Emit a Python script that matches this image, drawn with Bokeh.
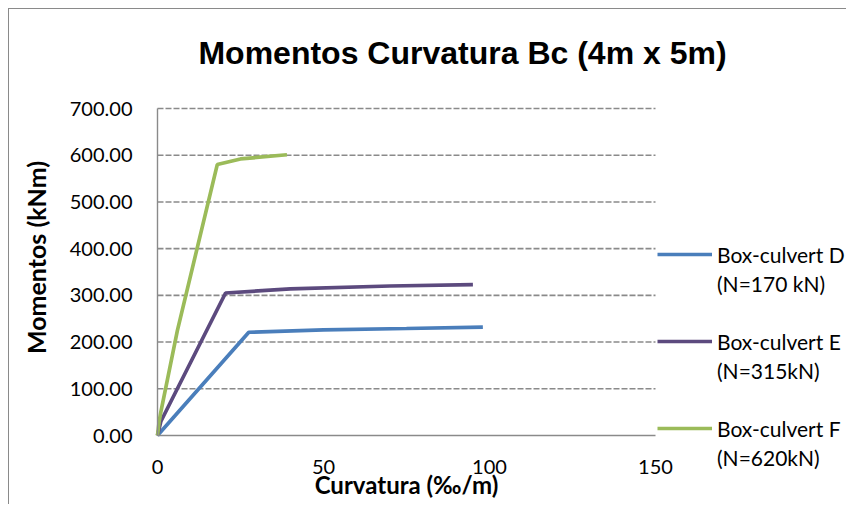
import math
from bokeh.plotting import figure
from bokeh.models import Range1d, Legend, LegendItem, Label, FixedTicker, CustomJSTickFormatter
from bokeh.embed import file_html
from bokeh.resources import INLINE

title_text = "Momentos Curvatura Bc (4m x 5m)"
x_label = "Curvatura (‰/m)"
y_label = "Momentos (kNm)"

x_ticks = [0, 50, 100, 150]
y_ticks = [0, 100, 200, 300, 400, 500, 600, 700]

# Box-culvert D (N=170 kN)
d_curv = [0, 27.5, 50, 75, 98]
d_mom = [0, 221, 226, 229, 232]
# Box-culvert E (N=315kN)
e_curv = [0, 1, 20.5, 40, 70, 95]
e_mom = [0, 30, 305, 314, 320, 323]
# Box-culvert F (N=620kN)
f_curv = [0, 0.5, 1, 6, 18, 25, 39]
f_mom = [0, 30, 50, 225, 580, 592, 601]

series_names = ["Box-culvert D", "Box-culvert E", "Box-culvert F"]
series_loads = ["(N=170 kN)", "(N=315kN)", "(N=620kN)"]
colors = ["#4A7EBB", "#5C4A7E", "#9BBB59"]

# ---- layout (page pixels) ----
W, H = 838, 496
frame_left, frame_right = 9, 9 + W
frame_top, frame_bottom = 9, 9 + H
x0_px, x150_px = 157, 655       # where the first and last x ticks sit
y0_px, y700_px = 435, 108       # where the first and last y ticks sit
kx = (x150_px - x0_px) / (x_ticks[-1] - x_ticks[0])
ky = (y0_px - y700_px) / (y_ticks[-1] - y_ticks[0])
x_range = Range1d(x_ticks[0] - (x0_px - frame_left) / kx, x_ticks[0] + (frame_right - x0_px) / kx)
y_range = Range1d(y_ticks[0] - (frame_bottom - y0_px) / ky, y_ticks[0] + (y0_px - frame_top) / ky)

p = figure(width=W, height=H, output_backend="svg", toolbar_location=None,
           x_range=x_range, y_range=y_range,
           min_border_left=0, min_border_right=0, min_border_top=0, min_border_bottom=0)
p.styles = {"margin-left": "8px", "margin-top": "8px",
            "border-left": "1px solid #8a8a8a", "border-top": "1px solid #8a8a8a"}
p.outline_line_color = None

grey = "#8a8a8a"
p.xgrid.grid_line_color = None
p.ygrid.grid_line_color = None
# dashed horizontal gridlines, bounded to the x-axis extent
grid_y = y_ticks[1:]
p.segment(x0=[x_ticks[0]] * len(grid_y), x1=[x_ticks[-1]] * len(grid_y), y0=grid_y, y1=grid_y,
          line_color=grey, line_width=1.6, line_dash="6 2")

p.xaxis.ticker = FixedTicker(ticks=x_ticks)
p.yaxis.ticker = FixedTicker(ticks=y_ticks)
p.yaxis.formatter = CustomJSTickFormatter(code="return tick.toFixed(2);")
p.xaxis.bounds = (x_ticks[0], x_ticks[-1])
p.yaxis.bounds = (y_ticks[0], y_ticks[-1])
p.xaxis.fixed_location = y_ticks[0]
p.yaxis.fixed_location = x_ticks[0]

for ax in (p.xaxis, p.yaxis):
    ax.axis_line_color = grey
    ax.axis_line_width = 1.4
    ax.major_tick_line_color = None
    ax.minor_tick_line_color = None
    ax.major_tick_out = 0
    ax.major_tick_in = 0
    ax.major_label_text_font = "Lato"
    ax.major_label_text_font_size = "20px"
    ax.major_label_text_color = "#000000"
    ax.axis_label_text_font = "Lato"
    ax.axis_label_text_font_style = "bold"
    ax.axis_label_text_color = "#000000"

p.xaxis.axis_label_text_font_size = "24px"
p.xaxis.major_label_standoff = 24
p.yaxis.major_label_standoff = 25
p.xaxis.axis_label = x_label
p.xaxis.axis_label_standoff = -7

r_d = p.line(d_curv, d_mom, line_color=colors[0], line_width=3.7)
r_e = p.line(e_curv, e_mom, line_color=colors[1], line_width=3.7)
r_f = p.line(f_curv, f_mom, line_color=colors[2], line_width=3.7)
blank = p.line([], [], line_alpha=0)

items = []
for i, r in enumerate([r_d, r_e, r_f]):
    items.append(LegendItem(label=series_names[i], renderers=[r]))
    items.append(LegendItem(label=series_loads[i], renderers=[blank]))
    if i < 2:
        items.append(LegendItem(label=" ", renderers=[blank]))

item_h = 28
legend_h = len(items) * item_h + (len(items) - 1) * 1
legend_top_px = 254 - item_h / 2
legend = Legend(items=items,
                location=(657 - frame_left, frame_bottom - (legend_top_px + legend_h)),
                padding=0, margin=0, spacing=1,
                glyph_width=55, glyph_height=item_h, label_height=item_h, label_standoff=5,
                label_text_font="Lato", label_text_font_size="21px", label_text_color="#000000",
                border_line_alpha=0, background_fill_alpha=0)
p.add_layout(legend, "center")

title = Label(x=462 - frame_left, y=frame_bottom - 52, x_units="screen", y_units="screen",
              text=title_text, text_font="Liberation Sans", text_font_style="bold",
              text_font_size="32px", text_align="center", text_baseline="middle",
              text_color="#000000")
p.add_layout(title)

ytitle = Label(x=35 - frame_left, y=frame_bottom - 257, x_units="screen", y_units="screen",
               text=y_label, angle=math.pi / 2, text_font="Lato", text_font_style="bold",
               text_font_size="25px", text_align="center", text_baseline="middle",
               text_color="#000000")
p.add_layout(ytitle)

open("out.html", "w").write(file_html(p, INLINE))
